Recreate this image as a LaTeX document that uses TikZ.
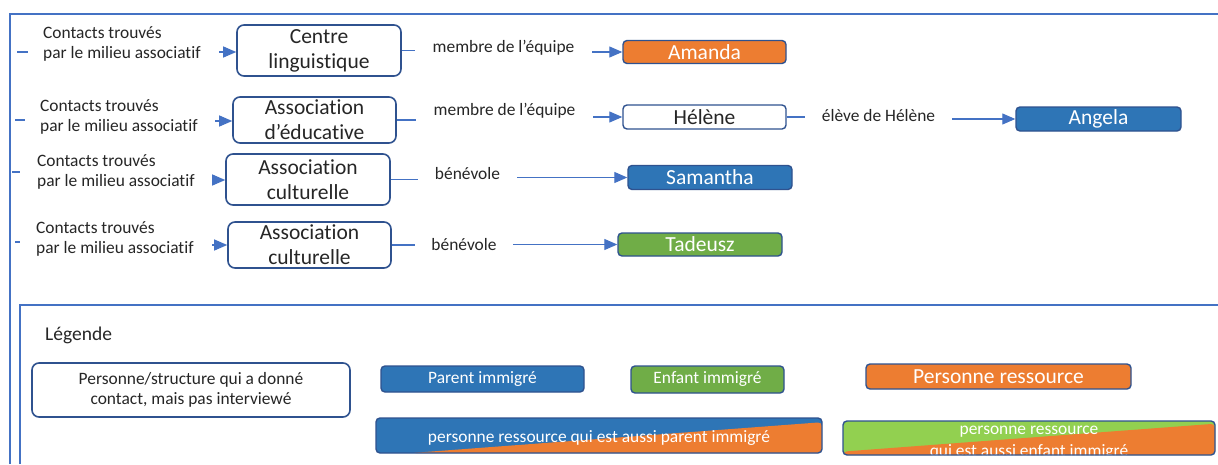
\documentclass[tikz,border=0pt]{standalone}
\usepackage{fontspec}
\setmainfont{Carlito}[Ligatures={NoCommon}]
\usetikzlibrary{arrows.meta,calc}
\definecolor{frameblue}{HTML}{4472C4}
\definecolor{boxborder}{HTML}{2F528F}
\definecolor{pblue}{HTML}{2E75B6}
\definecolor{porange}{HTML}{ED7D31}
\definecolor{pgreen}{HTML}{70AD47}
\definecolor{lgreen}{HTML}{92D050}
\definecolor{txt}{HTML}{262626}
\begin{document}
\begin{tikzpicture}[x=1pt,y=-1pt,
  small/.style={font=\fontsize{17.4}{20}\selectfont, text=txt},
  cnt/.style={small, anchor=west, align=left, inner sep=0pt},
  lbl/.style={small, inner sep=0pt},
  wbox/.style={draw=boxborder, line width=1.6pt, rounded corners=7pt, fill=white, font=\fontsize{21.5}{25}\selectfont, text=txt, align=center, inner sep=0pt},
  cbox/.style={draw=boxborder, line width=1.4pt, rounded corners=4pt, font=\fontsize{21.5}{24}\selectfont, text=white, inner sep=0pt},
  csmall/.style={font=\fontsize{17.4}{20}\selectfont},
  conn/.style={draw=frameblue, line width=1.1pt},
  arr/.style={conn, -{Triangle[length=13pt,width=11pt]}},
  frameline/.style={draw=frameblue, line width=1.5pt},
]
\useasboundingbox (0,0) rectangle (1218,464);
\fill[white] (0,0) rectangle (1218,464);

% frames
\coordinate (f1a) at (10,464); \coordinate (f1b) at (10,14); \coordinate (f1c) at (1218,14);
\draw[frameline] (f1a) -- (f1b) -- (f1c);
\coordinate (f2a) at (20,464); \coordinate (f2b) at (20,305); \coordinate (f2c) at (1218,305);
\draw[frameline] (f2a) -- (f2b) -- (f2c);

% ---------- row 1
\node[cnt] (t1) at (43,44) {Contacts trouvés\\par le milieu associatif};
\node[wbox, minimum width=164, minimum height=51] (c1) at (319,50.5) {Centre\\linguistique};
\node[lbl, minimum width=177] (m1) at (503.5,48) {membre de l’équipe};
\node[cbox, fill=porange, minimum width=163, minimum height=23] (am) at (704.5,52) {Amanda};
\coordinate (d1a) at (17,52); \coordinate (d1b) at (28,52); \coordinate (d1c) at (219,52);
\draw[conn] (d1a) -- (d1b);
\draw[arr] (d1c) -- (d1c -| c1.west);
\draw[conn] (c1.east) -- (c1.east -| m1.west);
\draw[arr] (m1.east |- am) -- (am.west);

% ---------- row 2
\node[cnt] (t2) at (40,117) {Contacts trouvés\\par le milieu associatif};
\node[wbox, minimum width=163, minimum height=46] (c2) at (314.5,120) {Association\\d’éducative};
\node[lbl, minimum width=177] (m2) at (504.5,111) {membre de l’équipe};
\node[wbox, rounded corners=4pt, line width=1.4pt, minimum width=163, minimum height=24] (he) at (704.5,117) {Hélène};
\node[lbl, minimum width=147] (e2) at (878.5,116) {élève de Hélène};
\node[cbox, fill=pblue, minimum width=165, minimum height=24] (an) at (1098.5,119) {Angela};
\coordinate (d2a) at (15,120); \coordinate (d2b) at (25,120); \coordinate (d2c) at (215,121);
\draw[conn] (d2a) -- (d2b);
\draw[arr] (d2c) -- (d2c -| c2.west);
\draw[conn] (c2.east) -- (c2.east -| m2.west);
\draw[arr] (m2.east |- he) -- (he.west);
\draw[conn] (he.east) -- (he.east -| e2.west);
\draw[arr] (e2.east |- an) -- (an.west);

% ---------- row 3
\node[cnt] (t3) at (37,172) {Contacts trouvés\\par le milieu associatif};
\node[wbox, minimum width=164, minimum height=51] (c3) at (308,179.5) {Association\\culturelle};
\node[lbl, minimum width=99] (b3) at (467.5,174) {bénévole};
\node[cbox, fill=pblue, minimum width=164, minimum height=24] (sa) at (710,177.5) {Samantha};
\coordinate (d3a) at (12,172); \coordinate (d3b) at (20,172); \coordinate (d3c) at (212,180);
\draw[conn] (d3a) -- (d3b);
\draw[arr] (d3c) -- (d3c -| c3.west);
\draw[conn] (c3.east) -- (c3.east -| b3.west);
\draw[arr] (b3.east |- sa) -- (sa.west);

% ---------- row 4
\node[cnt] (t4) at (36,239) {Contacts trouvés\\par le milieu associatif};
\node[wbox, minimum width=163, minimum height=46] (c4) at (309.5,245) {Association\\culturelle};
\node[lbl, minimum width=98] (b4) at (464,245) {bénévole};
\node[cbox, fill=pgreen, minimum width=164, minimum height=23] (ta) at (700,244.5) {Tadeusz};
\coordinate (d4a) at (15,242); \coordinate (d4b) at (20,242); \coordinate (d4c) at (212,245);
\draw[conn] (d4a) -- (d4b);
\draw[arr] (d4c) -- (d4c -| c4.west);
\draw[conn] (c4.east) -- (c4.east -| b4.west);
\draw[arr] (b4.east |- ta) -- (ta.west);

% ---------- legend
\node[anchor=west, inner sep=0pt, font=\fontsize{19.5}{22}\selectfont, text=txt] (lg) at (45,335) {Légende};
\node[wbox, font=\fontsize{17.4}{20}\selectfont, minimum width=318, minimum height=54] (lp) at (191,390) {Personne/structure qui a donné\\contact, mais pas interviewé};
\node[cbox, csmall, fill=pblue, minimum width=203, minimum height=26] (lpi) at (482.5,379) {Parent immigré};
\node[cbox, csmall, fill=pgreen, minimum width=153, minimum height=27] (lei) at (707.5,379.5) {Enfant immigré};
\node[cbox, fill=porange, minimum width=265, minimum height=25] (lpr) at (998.5,376.5) {Personne ressource};
\node[cbox, csmall, fill=pblue, minimum width=446, minimum height=35, text height=16pt, text depth=2pt,
  path picture={\fill[porange] ($(path picture bounding box.south west)!0.08!(path picture bounding box.south east)$) -- ($(path picture bounding box.north east)!0.12!(path picture bounding box.south east)$) -- (path picture bounding box.south east) -- cycle;}]
  (lg1) at (599,435.5) {personne ressource qui est aussi parent immigré};
\node[cbox, fill=lgreen, minimum width=372, minimum height=34,
  path picture={\fill[porange] ($(path picture bounding box.north west)!0.9!(path picture bounding box.south west)$) -- ($(path picture bounding box.north east)!0.08!(path picture bounding box.south east)$) -- (path picture bounding box.south east) -- (path picture bounding box.south west) -- cycle;
  \node[font=\fontsize{17.4}{22}\selectfont, text=white, align=center, inner sep=0pt] at ($(path picture bounding box.center)+(0,5)$) {personne ressource\\qui est aussi enfant immigré};}]
  (lg2) at (1029,438) {};
\end{tikzpicture}
\end{document}
